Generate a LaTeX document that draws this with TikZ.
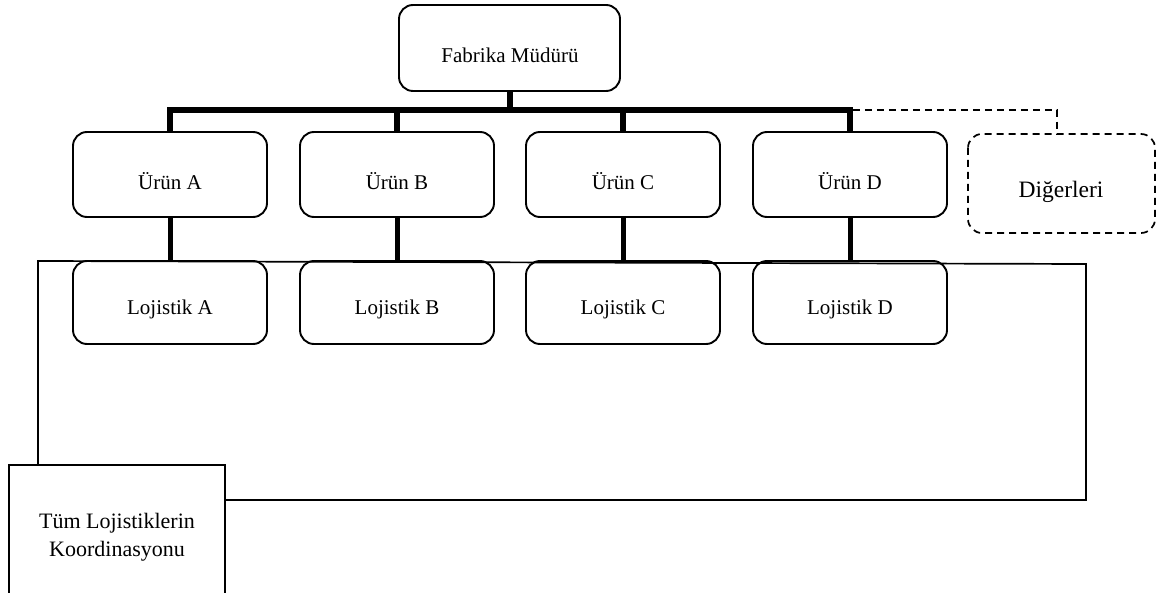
\documentclass[tikz,border=0pt]{standalone}
\usepackage{fontspec}
\setmainfont{Liberation Serif}
\begin{document}
\begin{tikzpicture}[x=1pt,y=-1pt,
  rbox/.style={draw,line width=1.9pt,rounded corners=14pt,inner sep=0pt},
  lbl/.style={font=\fontsize{21}{25}\selectfont,inner sep=0pt},
  thickline/.style={line width=6.5pt},
  thinline/.style={line width=1.7pt},
  dashline/.style={line width=1.7pt,dash pattern=on 7pt off 5pt}]
\useasboundingbox (0,0) rectangle (1164,593);
% big coordination frame
\coordinate (tl) at (38,261);
\coordinate (tr) at (1086,264);
\coordinate (br) at (1086,500);
\coordinate (cl) at (225,500);
\coordinate (lb) at (38,465);
\draw[thinline] (lb) -- (tl) -- (tr) -- (br) -- (cl);
% coordination box
\draw[thinline] (9,600) -- (9,465) -- (225,465) -- (225,600);
\node[lbl,align=center,font=\fontsize{22}{28}\selectfont] (coord) at (117,537) {Tüm Lojistiklerin\\Koordinasyonu};
% top box
\draw[rbox] (399,5) rectangle (620,91);
\node[lbl] (fab) at (510,55) {Fabrika Müdürü};
\coordinate (fabs) at (510,91);
% product boxes
\foreach \n/\x in {A/170,B/397,C/623,D/850}{
  \draw[rbox] (\x-97,132) rectangle (\x+97,217);
  \node[lbl] (u\n) at (\x,181) {Ürün \n};
  \coordinate (ut\n) at (\x,132);
  \coordinate (ub\n) at (\x,217);
  \draw[rbox] (\x-97,261) rectangle (\x+97,344);
  \node[lbl] (l\n) at (\x,309) {Lojistik \n};
  \coordinate (lt\n) at (\x,261);
  \coordinate (bus\n) at (\x,110);
  \draw[line width=5.5pt] (bus\n) -- (ut\n);
  \draw[line width=5pt] (ub\n) -- (lt\n);
}
\draw[thickline] ([xshift=-2.75pt]busA) -- ([xshift=2.75pt]busD);
\draw[thickline] (fabs) -- (510,110);
% others
\draw[rbox,dashline] (968,134) rectangle (1155,233);
\node[lbl,font=\fontsize{23.5}{28}\selectfont] (dig) at (1061,192) {Diğerleri};
\coordinate (digt) at (1057,134);
\draw[dashline] ([xshift=2.75pt]busD) -- (1057,110) -- (digt);
\end{tikzpicture}
\end{document}
